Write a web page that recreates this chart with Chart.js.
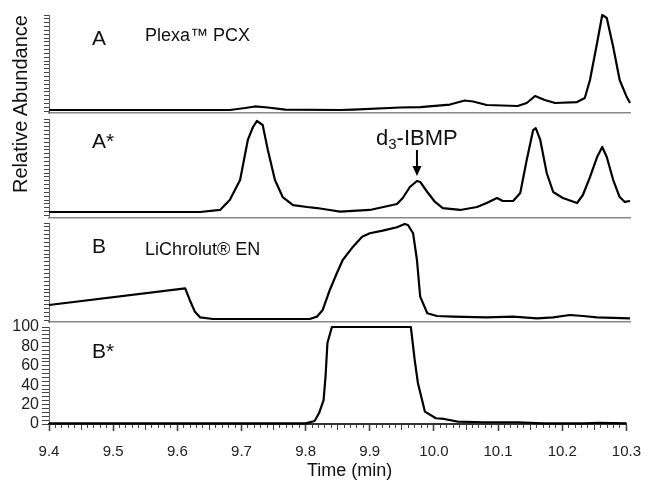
<!DOCTYPE html>
<html>
<head>
<meta charset="utf-8">
<script src="https://cdn.jsdelivr.net/npm/chart.js@4/dist/chart.umd.min.js"></script>
<style>
  html, body { margin: 0; padding: 0; background: #fff; }
  #wrap { position: relative; width: 653px; height: 482px; font-family: "Liberation Sans", Arial, sans-serif; color: #111; }
  #wrap canvas { position: absolute; left: 0; top: 0; }
  .lbl { position: absolute; line-height: 1; white-space: nowrap; }
  .big { font-size: 21px; }
  .name { font-size: 18px; }
  #yTitle { left: -80px; top: 93px; width: 200px; height: 22px; line-height: 22px; text-align: center; font-size: 20px; transform: rotate(-90deg); }
</style>
</head>
<body>
<div id="wrap">
  <canvas id="chartA" width="653" height="482"></canvas>
  <canvas id="chartAs" width="653" height="482"></canvas>
  <canvas id="chartB" width="653" height="482"></canvas>
  <canvas id="chartBs" width="653" height="482"></canvas>

  <div class="lbl" id="yTitle">Relative Abundance</div>
  <div class="lbl big" style="left:92px; top:27px;">A</div>
  <div class="lbl name" style="left:145px; top:26px;">Plexa™ PCX</div>
  <div class="lbl big" style="left:92px; top:130px;">A*</div>
  <div class="lbl" style="left:376px; top:127px; font-size:22px;">d<sub style="font-size:15px; vertical-align:-4px;">3</sub>-IBMP</div>
  <div class="lbl big" style="left:92px; top:235px;">B</div>
  <div class="lbl name" style="left:145px; top:240px;">LiChrolut® EN</div>
  <div class="lbl big" style="left:92px; top:340px;">B*</div>
  <div class="lbl" style="left:307px; top:461px; font-size:18px;">Time (min)</div>
</div>
<script>
// Panel A: Plexa PCX
const timeA = [9.400, 9.556, 9.680, 9.704, 9.719, 9.739, 9.766, 9.851, 9.871, 9.944,
               9.975, 10.021, 10.044, 10.057, 10.078, 10.126, 10.140, 10.153, 10.168, 10.184,
               10.218, 10.230, 10.238, 10.249, 10.257, 10.264, 10.274, 10.284, 10.295, 10.300];
const abundA = [1.1, 1.1, 1.1, 3.2, 4.8, 3.7, 1.6, 1.1, 1.6, 3.7,
                4.2, 6.8, 11.0, 10.0, 6.3, 5.3, 8.4, 15.7, 11.5, 8.4,
                9.4, 13.6, 32.3, 70.8, 100, 96.9, 66.7, 32.3, 14.6, 8.4];

// Panel A*
const timeAs = [9.400, 9.634, 9.665, 9.680, 9.696, 9.708, 9.716, 9.722, 9.731, 9.739,
                9.750, 9.762, 9.778, 9.800, 9.815, 9.835, 9.851, 9.897, 9.939, 9.948,
                9.959, 9.970, 9.975, 9.986, 9.998, 10.010, 10.037, 10.063, 10.078, 10.094,
                10.103, 10.119, 10.130, 10.140, 10.150, 10.154, 10.161, 10.171, 10.181, 10.196,
                10.218, 10.227, 10.238, 10.249, 10.257, 10.264, 10.274, 10.284, 10.292, 10.300];
const abundAs = [3.7, 3.7, 5.8, 16.1, 36.8, 78.3, 91.7, 97.9, 93.8, 67.9,
                 36.8, 19.2, 10.9, 8.9, 7.8, 5.8, 4.0, 5.8, 12.0, 18.2,
                 29.6, 35.8, 34.8, 24.4, 14.1, 7.8, 5.8, 8.9, 13.0, 18.2,
                 15.1, 15.1, 23.4, 57.5, 88.5, 90.6, 78.3, 44.1, 24.4, 18.2,
                 13.0, 21.3, 39.9, 60.6, 71.0, 60.6, 36.8, 19.2, 14.1, 15.1];

// Panel B: LiChrolut EN
const timeB = [9.400, 9.611, 9.618, 9.626, 9.634, 9.654, 9.804, 9.815, 9.824, 9.835,
               9.846, 9.855, 9.871, 9.885, 9.897, 9.917, 9.939, 9.951, 9.956, 9.964,
               9.970, 9.975, 9.986, 10.001, 10.026, 10.078, 10.119, 10.156, 10.181, 10.207,
               10.227, 10.249, 10.300];
const abundB = [15.5, 32.7, 20.7, 8.6, 2.8, 1.1, 1.1, 3.5, 10.4, 31.0,
                48.5, 61.9, 75.6, 85.9, 89.4, 92.1, 95.6, 99.0, 97.9, 89.4,
                61.9, 24.1, 7.0, 4.2, 3.5, 2.8, 3.5, 1.8, 2.8, 5.2,
                4.2, 2.8, 1.8];

// Panel B*
const timeBs = [9.400, 9.800, 9.814, 9.821, 9.828, 9.831, 9.834, 9.841, 9.964, 9.970,
                9.975, 9.986, 10.003, 10.016, 10.037, 10.078, 10.130, 10.171, 10.233, 10.258, 10.300];
const abundBs = [0.7, 0.7, 3.1, 11.3, 24.7, 48.5, 83.5, 100, 100, 66.0,
                 42.3, 12.7, 5.9, 5.2, 2.4, 1.8, 1.8, 0.7, 0.7, 1.3, 0.7];

const xMin = 9.4, xMax = 10.3;
const xLabels = [9.4, 9.5, 9.6, 9.7, 9.8, 9.9, 10.0, 10.1, 10.2, 10.3];
const yLabels = [0, 20, 40, 60, 80, 100];
const arrowTime = 9.97;   // d3-IBMP peak

// minor tick positions (0.01 min on x, 4 % on y)
const xMinorTicks = [];
for (let i = 0; i <= 90; i++) xMinorTicks.push(Math.round((xMin + i * 0.01) * 100) / 100);
const yMinorTicks = [];
for (let v = 0; v <= 100; v += 4) yMinorTicks.push(v);

Chart.defaults.font.family = '"Liberation Sans", Arial, sans-serif';
Chart.defaults.color = '#222';

const H = 482;

function pairs(xs, ys) {
    return xs.map((x, i) => ({ x: x, y: ys[i] }));
}

function isLabelX(v) {
    return xLabels.some(l => Math.abs(l - v) < 1e-6);
}

const arrowPlugin = {
    id: 'arrow',
    afterDatasetsDraw(chart) {
        const c = chart.ctx;
        const x = chart.scales.x.getPixelForValue(arrowTime);
        c.save();
        c.strokeStyle = '#000';
        c.fillStyle = '#000';
        c.lineWidth = 2;
        c.beginPath(); c.moveTo(x, 150); c.lineTo(x, 168); c.stroke();
        c.beginPath(); c.moveTo(x - 4.5, 166); c.lineTo(x + 4.5, 166); c.lineTo(x, 176); c.closePath(); c.fill();
        c.restore();
    }
};

function makePanel(id, times, values, top, bottom, isLast, extra) {
    const xScale = isLast ? {
        type: 'linear', min: xMin, max: xMax,
        afterFit: s => { s.height = H - bottom; },
        afterBuildTicks: s => { s.ticks = xMinorTicks.map(v => ({ value: v })); },
        ticks: {
            autoSkip: false, maxRotation: 0, padding: 12,
            font: { size: 15 }, color: '#222',
            callback: v => isLabelX(v) ? v.toFixed(1) : ''
        },
        grid: {
            display: true, drawOnChartArea: false, tickLength: 7, tickColor: '#444',
            tickWidth: ctx => (isLabelX(ctx.tick.value) ? 1.6 : 1),
            // minor ticks shorter than the labelled ones
            tickBorderDash: ctx => (isLabelX(ctx.tick.value) ? [] : (Math.round(ctx.tick.value * 100) % 5 === 0 ? [5, 20] : [3, 20]))
        },
        border: { display: true, color: '#333', width: 2 }
    } : {
        type: 'linear', min: xMin, max: xMax,
        afterFit: s => { s.height = 0; },
        ticks: { display: false },
        grid: { display: false, drawTicks: false },
        border: { display: true, color: '#888', width: 1.5 }
    };

    const yScale = {
        min: isLast ? 0 : -2, max: 100,
        afterFit: s => { s.width = 49; },
        afterBuildTicks: s => { s.ticks = yMinorTicks.map(v => ({ value: v })); },
        ticks: {
            display: isLast, autoSkip: false, padding: 3,
            font: { size: 16 }, color: '#222',
            callback: v => yLabels.includes(v) ? v : ''
        },
        grid: { display: true, drawOnChartArea: false, tickLength: isLast ? 7 : 5, tickColor: '#444' },
        border: { display: true, color: '#666', width: 1 }
    };

    return new Chart(document.getElementById(id), {
        type: 'line',
        data: {
            datasets: [{
                data: pairs(times, values),
                borderColor: '#000',
                borderWidth: 2.2,
                borderJoinStyle: 'round',
                pointRadius: 0,
                tension: 0,
                fill: false,
                clip: 6
            }]
        },
        options: {
            responsive: false,
            animation: false,
            events: [],
            layout: { padding: { left: 0, right: 23, top: top, bottom: isLast ? 0 : H - bottom } },
            plugins: { legend: { display: false }, tooltip: { enabled: false } },
            scales: { x: xScale, y: yScale }
        },
        plugins: extra || []
    });
}

makePanel('chartA', timeA, abundA, 15, 113, false);
makePanel('chartAs', timeAs, abundAs, 119, 217.5, false, [arrowPlugin]);
makePanel('chartB', timeB, abundB, 223, 322, false);
makePanel('chartBs', timeBs, abundBs, 327, 424, true);
</script>
</body>
</html>
